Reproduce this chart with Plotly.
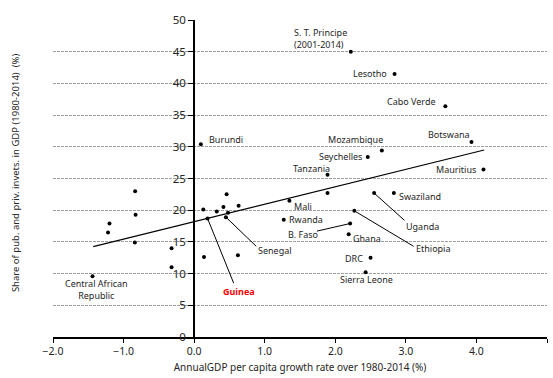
import plotly.graph_objects as go

# ---- data ----
countries = ["Burundi", "S. T. Principe", "Lesotho", "Cabo Verde", "Botswana", "Mozambique",
             "Seychelles", "Tanzania", "Mauritius", "Mali", "Uganda", "Swaziland", "Ethiopia",
             "Rwanda", "B. Faso", "Ghana", "DRC", "Sierra Leone", "Senegal", "Guinea",
             "Central African Republic"]
growth = [0.095, 2.22, 2.84, 3.56, 3.93, 2.66, 2.46, 1.89, 4.10, 1.35, 2.55, 2.83, 2.27,
          1.27, 2.21, 2.19, 2.50, 2.43, 0.45, 0.19, -1.44]
invest = [30.4, 45.0, 41.5, 36.4, 30.75, 29.4, 28.4, 25.6, 26.4, 21.5, 22.7, 22.7, 19.9,
          18.5, 17.9, 16.2, 12.5, 10.2, 18.9, 18.7, 9.6]

other_growth = [1.89, -0.836, -0.83, -1.20, -1.22, -0.84, -0.32, -0.32, 0.13, 0.14, 0.32,
                0.415, 0.46, 0.48, 0.63, 0.62]
other_invest = [22.7, 23.0, 19.3, 17.9, 16.5, 14.9, 14.0, 11.0, 20.1, 12.6, 19.8,
                20.5, 22.5, 19.6, 20.7, 12.9]

trend_x = [-1.43, 4.11]
trend_y = [14.26, 29.5]

y_ticks = [0, 5, 10, 15, 20, 25, 30, 35, 40, 45, 50]
x_ticks = [-2, -1, 0, 1, 2, 3, 4, 5]

FONT = "Noto Sans"
TXT = "#262626"

fig = go.Figure()
fig.add_trace(go.Scatter(x=trend_x, y=trend_y, mode="lines",
                         line=dict(color="black", width=1.2), hoverinfo="skip"))
fig.add_trace(go.Scatter(x=growth + other_growth, y=invest + other_invest, mode="markers",
                         marker=dict(color="black", size=4)))

pt = {c: (gx, iy) for c, gx, iy in zip(countries, growth, invest)}

# label placement: (country, label x, label y, xanchor, leader end or None)
labels = [
    ("Burundi", 0.18, 31.2, "left", None),
    ("S. T. Principe", 1.38, 47.15, "left", None),
    ("Lesotho", 2.76, 41.6, "right", None),
    ("Cabo Verde", 3.46, 37.1, "right", None),
    ("Botswana", 3.61, 32.0, "center", None),
    ("Mozambique", 2.28, 31.1, "center", None),
    ("Seychelles", 2.41, 28.4, "right", None),
    ("Tanzania", 1.66, 26.5, "center", None),
    ("Mauritius", 4.02, 26.4, "right", None),
    ("Mali", 1.39, 20.6, "left", None),
    ("Rwanda", 1.32, 18.5, "left", None),
    ("B. Faso", 1.54, 16.1, "center", (1.74, 16.7)),
    ("Ghana", 2.22, 15.5, "left", None),
    ("DRC", 2.42, 12.4, "right", None),
    ("Sierra Leone", 2.44, 9.1, "center", None),
    ("Swaziland", 2.88, 22.2, "left", None),
    ("Uganda", 3.23, 17.5, "center", (2.98, 18.4)),
    ("Ethiopia", 3.39, 13.95, "center", (3.11, 14.3)),
    ("Senegal", 1.14, 13.6, "center", (0.88, 14.3)),
    ("Guinea", 0.64, 7.2, "center", (0.56, 8.5)),
    ("Central African Republic", -1.38, 7.47, "center", None),
]

annotations = []
shapes = []
for name, lx, ly, anchor, leader in labels:
    text = name
    if name == "S. T. Principe":
        text = "S. T. Principe<br>(2001-2014)"
    elif name == "Central African Republic":
        text = "Central African<br>Republic"
    color = TXT
    if name == "Guinea":
        text = "<b>Guinea</b>"
        color = "#ff0000"
    annotations.append(dict(x=lx, y=ly, xref="x", yref="y", text=text, showarrow=False,
                            xanchor=anchor, yanchor="middle", align="left" if anchor == "left" else "center",
                            font=dict(family=FONT, size=9, color=color)))
    if leader is not None:
        px, py = pt[name]
        shapes.append(dict(type="line", xref="x", yref="y", x0=px, y0=py,
                           x1=leader[0], y1=leader[1], line=dict(color="black", width=1)))

annotations.append(dict(x=-0.077, y=0.52, xref="paper", yref="paper",
                        text="Share of pub. and priv. invets. in GDP (1980-2014)  (%)",
                        textangle=-90, showarrow=False, xanchor="center", yanchor="middle",
                        font=dict(family=FONT, size=9.5, color=TXT)))

fig.update_layout(
    width=553, height=378,
    margin=dict(l=53, r=6, t=20, b=36),
    paper_bgcolor="white", plot_bgcolor="white",
    showlegend=False,
    annotations=annotations, shapes=shapes,
    xaxis=dict(range=[-2, 5], tickvals=x_ticks, tickformat=".1f", ticks="outside",
               ticklen=4, tickcolor="black", showline=True, linecolor="black", linewidth=1.5,
               showgrid=False, zeroline=False,
               tickfont=dict(family=FONT, size=10.5, color=TXT),
               title=dict(text="AnnualGDP per capita growth rate over 1980-2014 (%)",
                          font=dict(family=FONT, size=10, color=TXT), standoff=7)),
    yaxis=dict(range=[0, 50], tickvals=y_ticks, anchor="free", position=2 / 7,
               ticks="outside", ticklen=5, tickcolor="black", showline=True,
               linecolor="black", linewidth=2, showgrid=True, gridcolor="#a0a0a0",
               gridwidth=1, griddash="3px,1px", zeroline=False,
               tickfont=dict(family=FONT, size=11.5, color=TXT)),
)

fig.write_html("out.html")
